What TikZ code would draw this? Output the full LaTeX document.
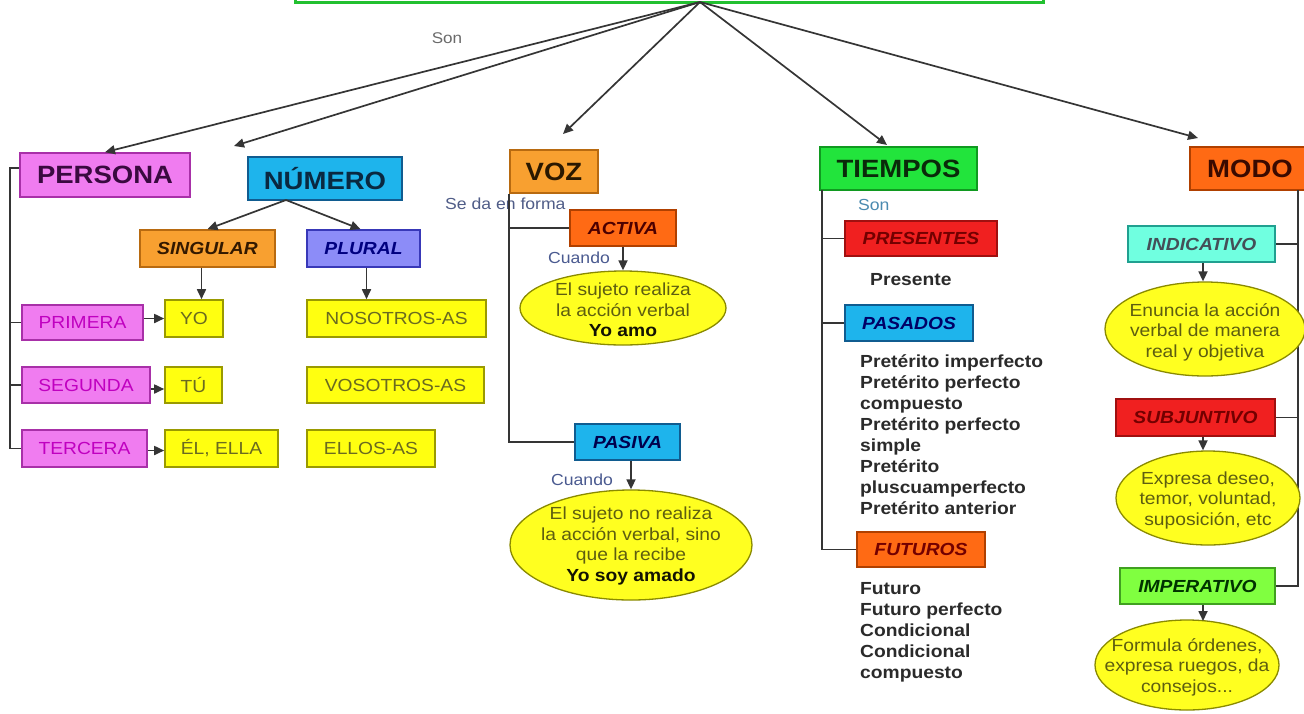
\documentclass[tikz,border=0pt]{standalone}
\usepackage{fontspec}
\setmainfont{Liberation Sans}[FakeStretch=1.1]
\usetikzlibrary{shapes.geometric,arrows.meta,calc}
\definecolor{linec}{HTML}{353535}
\definecolor{topg}{HTML}{22C030}
\definecolor{pinkf}{HTML}{F07CF0}
\definecolor{pinkb}{HTML}{A830A8}
\definecolor{bluef}{HTML}{1EB4EC}
\definecolor{blueb}{HTML}{105C90}
\definecolor{orf}{HTML}{F8A030}
\definecolor{orb}{HTML}{B86A10}
\definecolor{greenf}{HTML}{22E43C}
\definecolor{greenb}{HTML}{109A20}
\definecolor{redof}{HTML}{FF6A14}
\definecolor{redob}{HTML}{B04000}
\definecolor{perif}{HTML}{8C8CF8}
\definecolor{perib}{HTML}{3838B8}
\definecolor{yelf}{HTML}{FFFF10}
\definecolor{yelb}{HTML}{9A9A00}
\definecolor{yelt}{HTML}{6A6A20}
\definecolor{redf}{HTML}{F02020}
\definecolor{redb}{HTML}{A01010}
\definecolor{aquaf}{HTML}{70FFE0}
\definecolor{aquab}{HTML}{20A090}
\definecolor{limef}{HTML}{80FF40}
\definecolor{limeb}{HTML}{40A020}
\definecolor{ellf}{HTML}{FFFF20}
\definecolor{ellb}{HTML}{8A8A00}
\definecolor{ellt}{HTML}{5E5E10}
\definecolor{listc}{HTML}{2A2A2A}
\definecolor{magt}{HTML}{C000C0}
\definecolor{lblc}{HTML}{6A6A6A}
\definecolor{cuac}{HTML}{4A5A90}
\definecolor{sonc}{HTML}{4A8AB0}
\definecolor{hpers}{HTML}{3A0A40}
\definecolor{hnum}{HTML}{0A2840}
\definecolor{hvoz}{HTML}{2A1800}
\definecolor{htiem}{HTML}{0A2A0A}
\definecolor{hmodo}{HTML}{3A0A00}
\tikzset{
  conn/.style={draw=linec, line width=1.7pt},
  arr/.style={conn, -{Triangle[length=10pt,width=9pt]}},
  bx/.style={rectangle, inner sep=0pt, line width=1.6pt, anchor=center},
  sz/.style 2 args={minimum width=#1pt, minimum height=#2pt},
  big/.style={bx, font=\fontsize{25}{30}\selectfont\bfseries},
  sm/.style={bx, font=\fontsize{17.5}{21}\selectfont},
  smbi/.style={bx, font=\fontsize{17.5}{21}\selectfont\bfseries\itshape},
  ell/.style={ellipse, draw=ellb, fill=ellf, line width=1.3pt, inner sep=0pt},
  etext/.style={align=center, font=\fontsize{17.5}{20.5}\selectfont, text=ellt, inner sep=0pt},
  lbl/.style={inner sep=0pt, font=\fontsize{16}{19}\selectfont},
  lst/.style={inner sep=0pt, align=left, font=\fontsize{17.5}{21}\selectfont\bfseries, text=listc, anchor=north west},
}
\begin{document}
\begin{tikzpicture}[x=1pt,y=-1pt]
\useasboundingbox[fill=white] (0,0) rectangle (1304,713);
% top box (cut off)
\node[draw=topg, line width=3pt, minimum width=748pt, minimum height=40pt, inner sep=0pt] (top) at (669,-18) {};
\coordinate (hub) at (700,2);
\node[lbl, text=lblc, font=\fontsize{15.5}{18}\selectfont] (son1) at (447,38) {Son};

% level 1
\node[big, sz={170}{44}, fill=pinkf, draw=pinkb, text=hpers] (persona) at (105,175) {PERSONA};
\node[big, sz={154}{43}, fill=bluef, draw=blueb, text=hnum] (numero) at (325,178.5) {NÚMERO};
\node[big, sz={88}{43}, fill=orf, draw=orb, text=hvoz] (voz) at (554,171.5) {VOZ};
\node[big, sz={157}{43}, fill=greenf, draw=greenb, text=htiem] (tiempos) at (898.5,168.5) {TIEMPOS};
\node[big, sz={120}{43}, fill=redof, draw=redob, text=hmodo] (modo) at (1250,168.5) {MODO};

\coordinate (tN) at (234,146);
\coordinate (tV) at (563,134);
\coordinate (tT) at (887,145);
\coordinate (tM) at (1198,138);
\draw[arr] (hub) -- (persona.north);
\draw[arr] (hub) -- (tN);
\draw[arr] (hub) -- (tV);
\draw[arr] (hub) -- (tT);
\draw[arr] (hub) -- (tM);

% NUMERO branch
\node[smbi, sz={135}{37}, fill=orf, draw=orb, text=black!80!orange] (singular) at (207.5,248.5) {SINGULAR};
\node[smbi, sz={113}{37}, fill=perif, draw=perib, text=blue!50!black] (plural) at (363.5,248.5) {PLURAL};
\coordinate (nstart) at (286,200);
\draw[arr] (nstart) -- ([xshift=0pt]singular.north);
\draw[arr] (nstart) -- ([xshift=-3pt]plural.north);

% persona items
\node[sm, sz={121}{35}, fill=pinkf, draw=pinkb, text=magt] (primera) at (82.5,322.5) {PRIMERA};
\node[sm, sz={128}{36}, fill=pinkf, draw=pinkb, text=magt] (segunda) at (86,385) {SEGUNDA};
\node[sm, sz={125}{37}, fill=pinkf, draw=pinkb, text=magt] (tercera) at (84.5,448.5) {TERCERA};
\node[sm, sz={58}{37}, fill=yelf, draw=yelb, text=yelt] (yo) at (194,318.5) {YO};
\node[sm, sz={57}{36}, fill=yelf, draw=yelb, text=yelt] (tu) at (193.5,385) {TÚ};
\node[sm, sz={113}{37}, fill=yelf, draw=yelb, text=yelt] (el) at (221.5,448.5) {ÉL, ELLA};
\node[sm, sz={179}{37}, fill=yelf, draw=yelb, text=yelt] (nosotros) at (396.5,318.5) {NOSOTROS-AS};
\node[sm, sz={177}{36}, fill=yelf, draw=yelb, text=yelt] (vosotros) at (395.5,385) {VOSOTROS-AS};
\node[sm, sz={128}{37}, fill=yelf, draw=yelb, text=yelt] (ellos) at (371,448.5) {ELLOS-AS};

\coordinate (ptrunk) at (10,168);
\draw[conn] ([yshift=7pt]persona.west) -- (ptrunk) |- (tercera.west);
\draw[conn] (ptrunk |- primera.west) -- (primera.west);
\draw[conn] (ptrunk |- segunda.west) -- (segunda.west);
\draw[arr] (primera.east |- yo.west) -- (yo.west);
\draw[arr] ([yshift=-4pt]segunda.east) -- ([yshift=-4pt]tu.west);
\draw[arr] ([yshift=-2pt]tercera.east) -- ([yshift=-2pt]el.west);
\draw[arr] ([xshift=-6pt]singular.south) -- ([xshift=-6pt]singular.south |- yo.north);
\draw[arr] ([xshift=3pt]plural.south) -- ([xshift=3pt]plural.south |- nosotros.north);

% VOZ branch
\node[lbl, text=cuac!80!lblc, anchor=west] (seda) at (445,204) {Se da en forma};
\node[smbi, sz={106}{36}, fill=redof, draw=redob, text=black!70!red] (activa) at (623,228) {ACTIVA};
\node[smbi, sz={105}{36}, fill=bluef, draw=blueb, text=black!70!blue] (pasiva) at (627.5,442) {PASIVA};
\draw[conn] (voz.south west) |- (pasiva.west);
\draw[conn] (voz.south west |- activa.west) -- (activa.west);
\node[ell, minimum width=206pt, minimum height=74pt] (e1) at (623,308) {};
\node[etext] (e1t) at (623,310) {El sujeto realiza\\la acción verbal\\\textbf{\color{black!80!ellt}Yo amo}};
\node[ell, minimum width=242pt, minimum height=110pt] (e2) at (631,545) {};
\node[etext] (e2t) at (631,546) {El sujeto no realiza\\la acción verbal, sino\\que la recibe\\\textbf{\color{black!80!ellt}Yo soy amado}};
\draw[arr] (activa.south) -- (e1.north);
\draw[arr] (e2.north |- pasiva.south) -- (e2.north);
\node[lbl, text=cuac, anchor=west] (cuando1) at (548,258) {Cuando};
\node[lbl, text=cuac, anchor=west] (cuando2) at (551,480) {Cuando};

% TIEMPOS branch
\node[lbl, text=sonc, anchor=west] (son2) at (858,205) {Son};
\node[smbi, sz={152}{35}, fill=redf, draw=redb, text=red!45!black] (presentes) at (921,238.5) {PRESENTES};
\node[smbi, sz={128}{36}, fill=bluef, draw=blueb, text=blue!40!black] (pasados) at (909,323) {PASADOS};
\node[smbi, sz={128}{35}, fill=redof, draw=redob, text=red!45!black] (futuros) at (921,549.5) {FUTUROS};
\coordinate (ttrunk) at (822,190);
\draw[conn] (ttrunk) |- (futuros.west);
\draw[conn] (ttrunk |- presentes.west) -- (presentes.west);
\draw[conn] (ttrunk |- pasados.west) -- (pasados.west);
\node[lst, anchor=west] (presente) at (870,280) {Presente};
\node[lst] (pasl) at (860,354) {Pretérito imperfecto\\Pretérito perfecto\\compuesto\\Pretérito perfecto\\simple\\Pretérito\\pluscuamperfecto\\Pretérito anterior};
\node[lst] (futl) at (860,582) {Futuro\\Futuro perfecto\\Condicional\\Condicional\\compuesto};

% MODO branch
\node[bx, sz={147}{36}, font=\fontsize{17.5}{21}\selectfont\itshape, fill=aquaf, draw=aquab, text=black!75!cyan] (indicativo) at (1201.5,244) {\textbf{INDICATIVO}};
\node[smbi, sz={159}{37}, fill=redf, draw=redb, text=red!45!black] (subjuntivo) at (1195.5,417.5) {SUBJUNTIVO};
\node[smbi, sz={155}{36}, fill=limef, draw=limeb, text=black!80!green] (imperativo) at (1197.5,586) {IMPERATIVO};
\coordinate (mtrunk) at (1298,190);
\draw[conn] (mtrunk) |- (imperativo.east);
\draw[conn] (mtrunk |- indicativo.east) -- (indicativo.east);
\draw[conn] (mtrunk |- subjuntivo.east) -- (subjuntivo.east);
\coordinate (mx) at (1203,0);
\coordinate (e5top) at (1203,621);
\node[ell, minimum width=200pt, minimum height=94pt] (e3) at (1205,329) {};
\node[etext] (e3t) at (1205,332) {Enuncia la acción\\verbal de manera\\real y objetiva};
\node[ell, minimum width=184pt, minimum height=94pt] (e4) at (1208,498) {};
\node[etext] (e4t) at (1208,500) {Expresa deseo,\\temor, voluntad,\\suposición, etc};
\node[ell, minimum width=184pt, minimum height=90pt] (e5) at (1187,665) {};
\node[etext] (e5t) at (1187,667) {Formula órdenes,\\expresa ruegos, da\\consejos...};
\draw[arr] (indicativo.south -| mx) -- (e3.north -| mx);
\draw[arr] (subjuntivo.south -| mx) -- (e4.north -| mx);
\draw[arr] (imperativo.south -| mx) -- (e5top);
\end{tikzpicture}
\end{document}
